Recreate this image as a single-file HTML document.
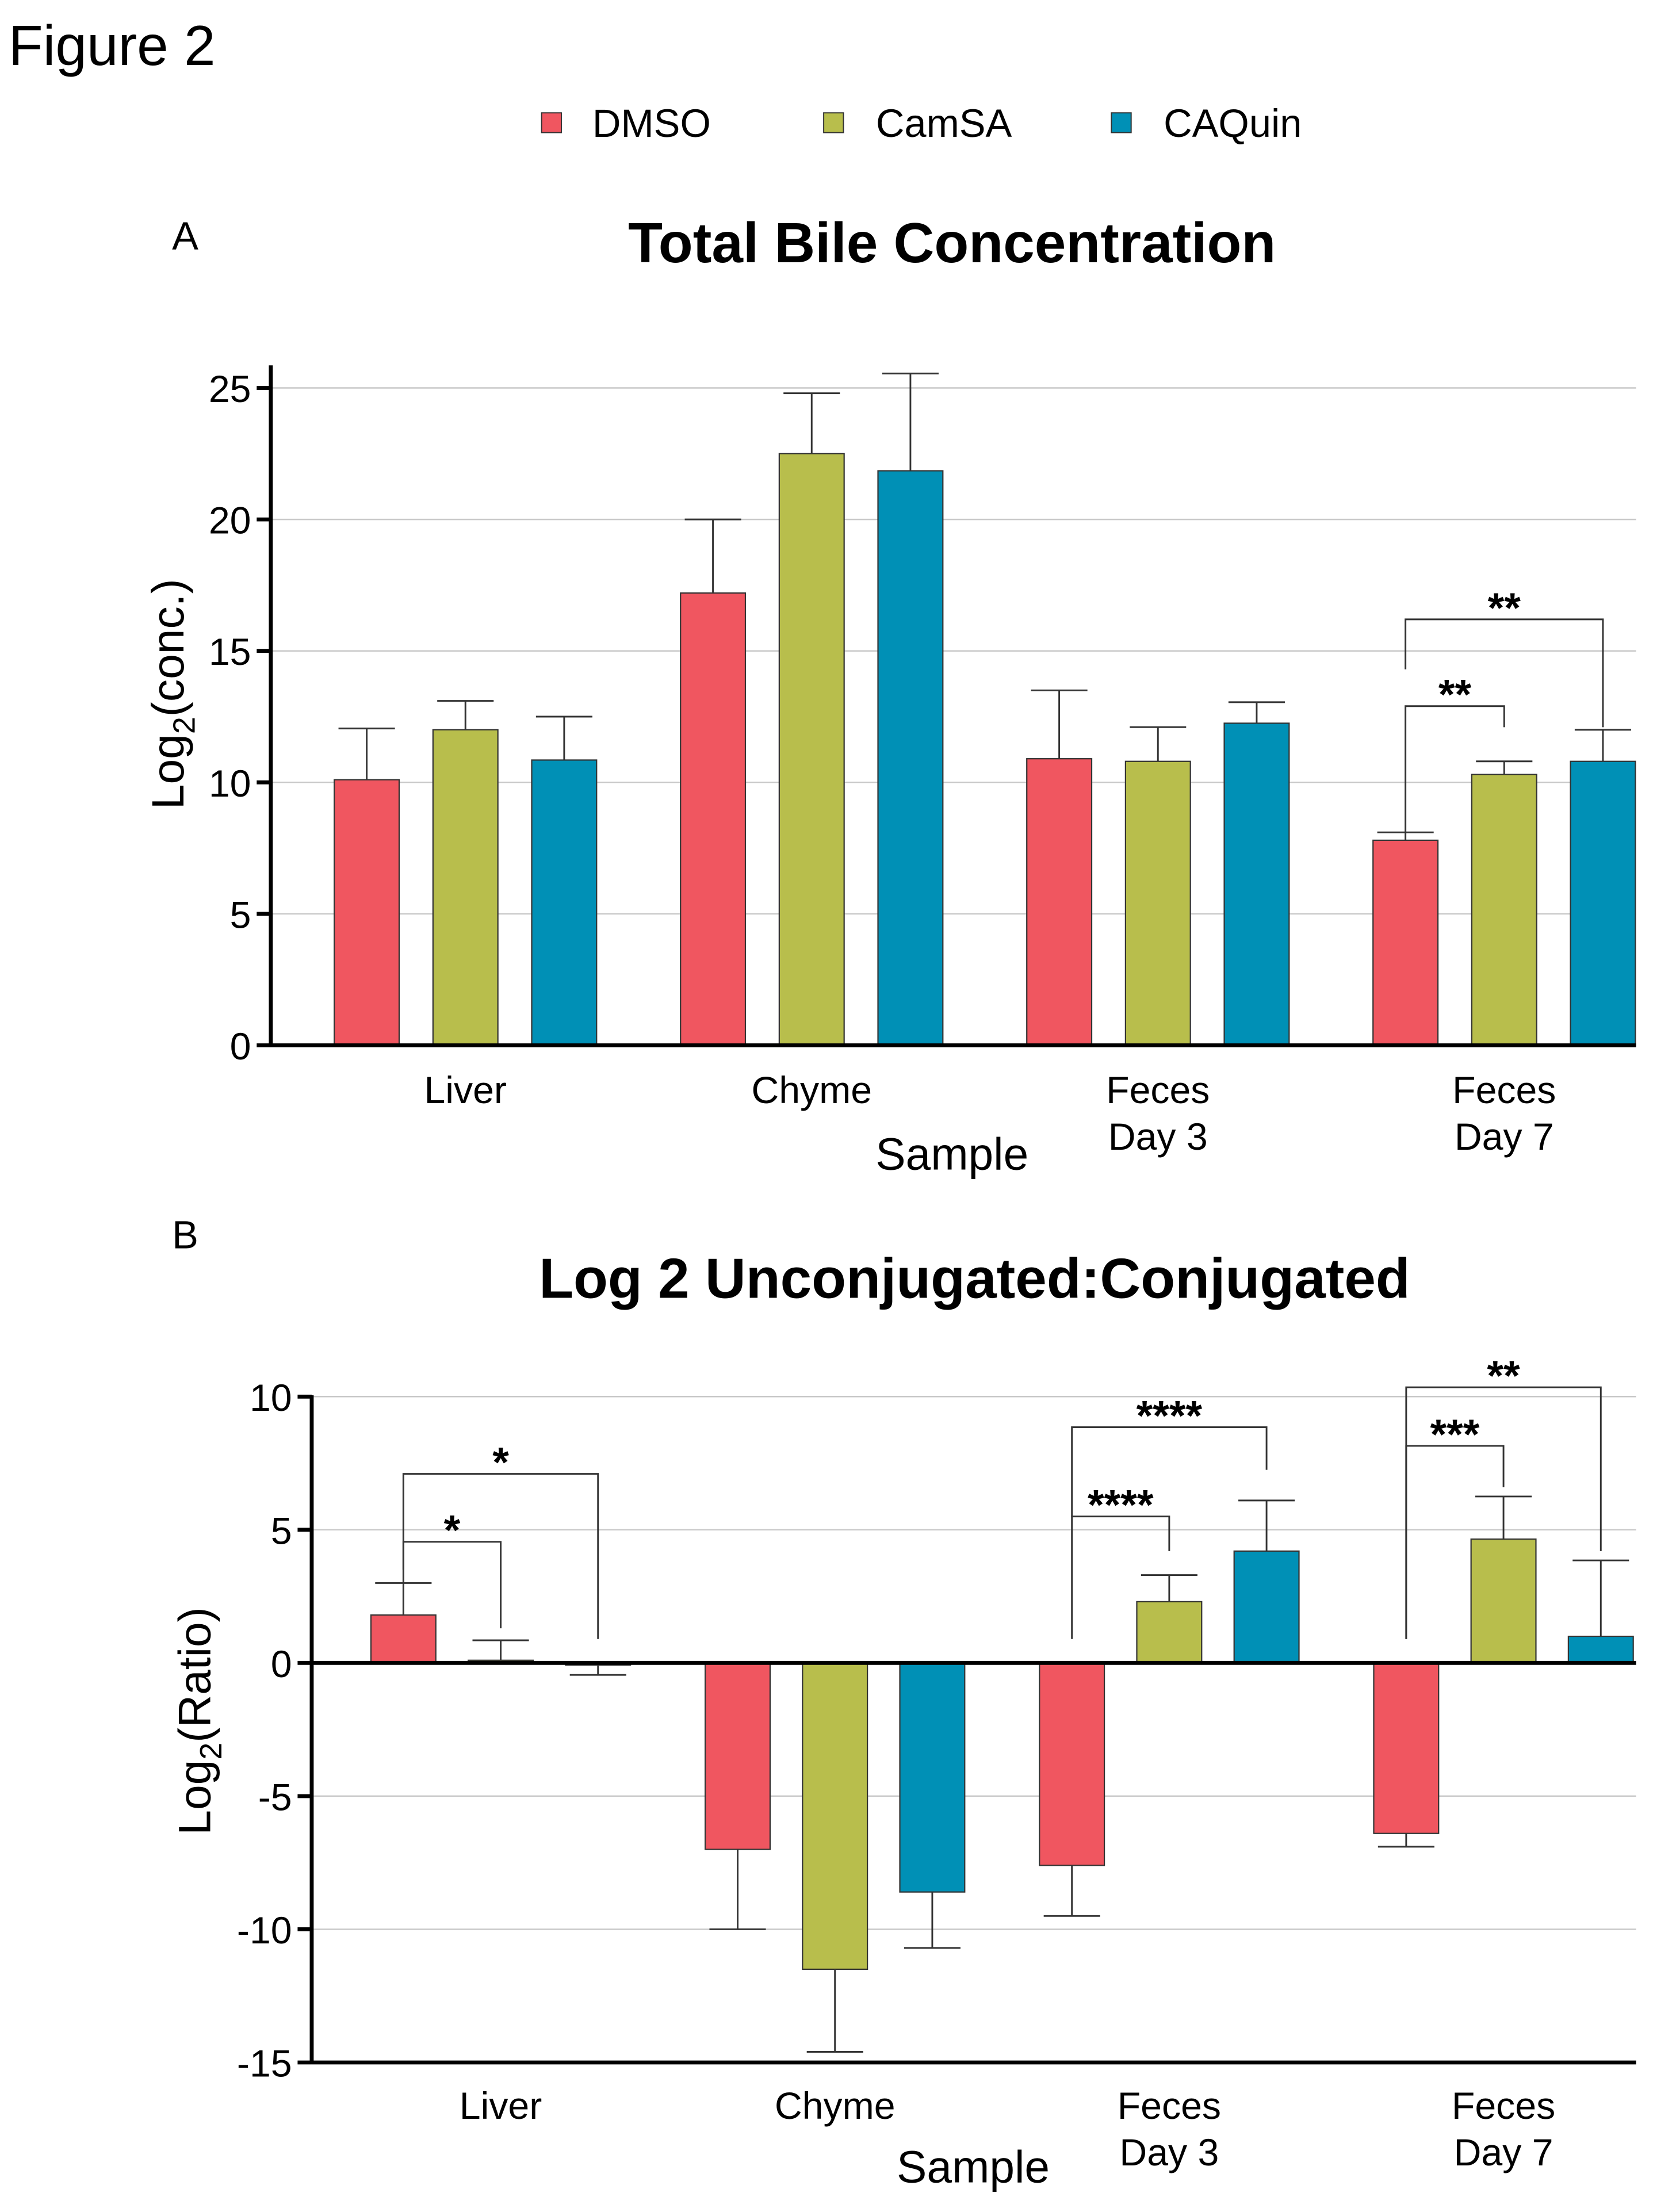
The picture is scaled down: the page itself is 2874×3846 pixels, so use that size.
<!DOCTYPE html>
<html><head><meta charset="utf-8"><style>
html,body{margin:0;padding:0;background:#fff;}
svg{display:block;font-family:"Liberation Sans",Arial,sans-serif;}
</style></head><body>
<svg id="fig" width="2874" height="3846" viewBox="0 0 1172 1568" preserveAspectRatio="none" xmlns="http://www.w3.org/2000/svg">
<rect width="1172" height="1568" fill="#fff"/>
<text x="6" y="46" font-size="40">Figure 2</text>
<g font-size="28">
 <rect x="384" y="80" width="14" height="14" fill="#F05660" stroke="#333" stroke-width="0.8"/>
 <text x="420" y="97">DMSO</text>
 <rect x="584" y="80" width="14" height="14" fill="#B8BE4C" stroke="#333" stroke-width="0.8"/>
 <text x="621" y="97">CamSA</text>
 <rect x="788" y="80" width="14" height="14" fill="#0090B6" stroke="#333" stroke-width="0.8"/>
 <text x="825" y="97">CAQuin</text>
</g>
<text x="122" y="177" font-size="28">A</text>
<text x="675" y="186" font-size="40" font-weight="bold" text-anchor="middle">Total Bile Concentration</text>
<text x="122" y="885" font-size="28">B</text>
<text x="691" y="920" font-size="40" font-weight="bold" text-anchor="middle">Log 2 Unconjugated:Conjugated</text>
<g id="chartA"></g>
<g id="chartB"></g>
</svg>
<script>
const categories = ["Liver","Chyme","Feces|Day 3","Feces|Day 7"];
const seriesNames = ["DMSO","CamSA","CAQuin"];
const colors = ["#F05660","#B8BE4C","#0090B6"];
// Chart A data
const aDMSO = [10.1, 17.2, 10.9, 7.8];
const aCamSA = [12.0, 22.5, 10.8, 10.3];
const aCAQuin = [10.85, 21.85, 12.25, 10.8];
const aErrDMSO = [12.05, 20.0, 13.5, 8.1];
const aErrCamSA = [13.1, 24.8, 12.1, 10.8];
const aErrCAQuin = [12.5, 25.55, 13.05, 12.0];
const aTicks = [0,5,10,15,20,25];
// brackets: [group, fromSeries, toSeries, top, leftBottom, rightBottom, label]
const aBrackets = [[3,0,1,12.9,8.1,12.1,"**"],[3,0,2,16.2,14.3,12.1,"**"]];
// Chart B data
const bDMSO = [1.8, -7.0, -7.6, -6.4];
const bCamSA = [0.1, -11.5, 2.3, 4.65];
const bCAQuin = [0.0, -8.6, 4.2, 1.0];
const bErrDMSO = [3.0, -10.0, -9.5, -6.9];
const bErrCamSA = [0.85, -14.6, 3.3, 6.25];
const bErrCAQuin = [-0.45, -10.7, 6.1, 3.85];
const bTicks = [-15,-10,-5,0,5,10];
const bBrackets = [[0,0,1,4.55,3.0,1.3,"*"],[0,0,2,7.1,3.5,0.9,"*"],
 [2,0,1,5.5,0.9,4.2,"****"],[2,0,2,8.85,5.5,7.25,"****"],
 [3,0,1,8.15,0.9,6.6,"***"],[3,0,2,10.35,0.9,4.2,"**"]];

const NS="http://www.w3.org/2000/svg";
function mk(parent,tag,attrs){const e=document.createElementNS(NS,tag);for(const k in attrs)e.setAttribute(k,attrs[k]);parent.appendChild(e);return e;}

function drawChart(g,cfg){
 const y=v=>cfg.y0-(v-cfg.vmin)*(cfg.y0-cfg.y1)/(cfg.vmax-cfg.vmin);
 const xg=i=>cfg.gx0+i*cfg.gstep;
 const xs=(i,s)=>xg(i)+(s-1)*cfg.off;
 cfg.ticks.forEach(t=>{
  const gl=mk(g,'line',{x1:cfg.ax,x2:cfg.right,y1:y(t),y2:y(t),stroke:'#c8c8c8','stroke-width':1});
  
  
  const tk=mk(g,'line',{x1:cfg.ax-10,x2:cfg.ax,y1:y(t),y2:y(t),stroke:'#000','stroke-width':2.8});
  
  
  const tl=mk(g,'text',{x:cfg.ax-14,y:y(t)+10,'font-size':27,'text-anchor':'end'});
  tl.textContent=t;
  
  
 });
 const vals=cfg.vals, errs=cfg.errs, bw=46;
 for(let s=0;s<3;s++)for(let i=0;i<categories.length;i++){
  const cx=xs(i,s), v=vals[s][i], e=errs[s][i];
  const eb=mk(g,'line',{x1:cx,x2:cx,y1:y(v),y2:y(e),stroke:'#333','stroke-width':1.2});
  
  
  const ec=mk(g,'line',{x1:cx-20,x2:cx+20,y1:y(e),y2:y(e),stroke:'#333','stroke-width':1.2});
  
  
  const top=Math.min(y(v),y(0)), h=Math.abs(y(v)-y(0));
  const r=mk(g,'rect',{x:cx-bw/2,y:top,width:bw,height:Math.max(h,1.5),fill:colors[s],stroke:'#333','stroke-width':0.9});
  
  
 }
 const ya=mk(g,'line',{x1:cfg.ax,x2:cfg.ax,y1:cfg.y1-cfg.axExtra,y2:cfg.y0+1,stroke:'#000','stroke-width':2.8});
 
 
 const xa=mk(g,'line',{x1:cfg.ax-1,x2:cfg.right,y1:y(0),y2:y(0),stroke:'#000','stroke-width':2.8});
 
 
 if(cfg.vmin<0){
  const bl=mk(g,'line',{x1:cfg.ax,x2:cfg.right,y1:cfg.y0,y2:cfg.y0,stroke:'#000','stroke-width':2.8});
  
  
 }
 categories.forEach((c,i)=>{
  const parts=c.split('|');
  parts.forEach((p,k)=>{
   const t=mk(g,'text',{x:xg(i),y:cfg.catY+k*33,'font-size':27,'text-anchor':'middle'});
   t.textContent=p;
   
   
  });
 });
 cfg.brackets.forEach(b=>{
  const xl=xs(b[0],b[1]), xr=xs(b[0],b[2]);
  const p=mk(g,'path',{d:`M${xl},${y(b[4])}V${y(b[3])}H${xr}V${y(b[5])}`,fill:'none',stroke:'#333','stroke-width':1.2});
  
  
  const t=mk(g,'text',{x:(xl+xr)/2,y:y(b[3])+2,'font-size':30,'font-weight':'bold','text-anchor':'middle'});
  t.textContent=b[6];
  
  
 });
 const xt=mk(g,'text',{x:cfg.sampleX,y:cfg.sampleY,'font-size':32,'text-anchor':'middle'});
 xt.textContent='Sample';
 
 
 const yt=mk(g,'text',{x:0,y:0,'font-size':32,'text-anchor':'middle',transform:`translate(${cfg.ytX},${cfg.ytY}) rotate(-90)`});
 yt.innerHTML=`Log<tspan font-size="22" dy="8">2</tspan><tspan dy="-8">${cfg.ytText}</tspan>`;
 
 
}
drawChart(document.getElementById('chartA'),{
 ax:192,right:1160,y0:741,y1:275,vmin:0,vmax:25,gx0:330,gstep:245.5,off:70,axExtra:16,
 ticks:aTicks,vals:[aDMSO,aCamSA,aCAQuin],errs:[aErrDMSO,aErrCamSA,aErrCAQuin],
 brackets:aBrackets,catY:782,sampleX:675,sampleY:829,ytX:130,ytY:492,ytText:'(conc.)'});
drawChart(document.getElementById('chartB'),{
 ax:221,right:1160,y0:1462,y1:990,vmin:-15,vmax:10,gx0:355,gstep:237,off:69,axExtra:1,
 ticks:bTicks,vals:[bDMSO,bCamSA,bCAQuin],errs:[bErrDMSO,bErrCamSA,bErrCAQuin],
 brackets:bBrackets,catY:1502,sampleX:690,sampleY:1547,ytX:149,ytY:1220,ytText:'(Ratio)'});
</script>
</body></html>
